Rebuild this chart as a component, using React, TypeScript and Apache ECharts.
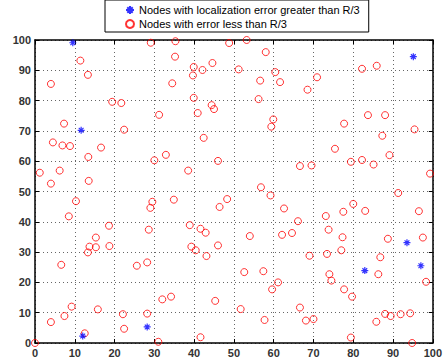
import React, { useEffect, useRef } from "react";
import * as echarts from "echarts";

const legendNames = [
  "Nodes with localization error greater than R/3",
  "Nodes with error less than R/3",
];

const xTicks = { min: 0, max: 100, step: 10 };

const blueX = [9.5, 11.6, 12.0, 28.2, 82.9, 93.5, 97.0, 95.1];
const blueY = [99.1, 70.2, 2.3, 5.3, 23.9, 33.1, 25.5, 94.5];

const redX = [
  11.4, 13.3, 4.0, 19.4, 21.7, 7.3, 22.4,
  29.1, 35.3, 35.2, 48.8, 53.2, 58.0, 39.9, 44.6, 42.1, 39.7, 51.2, 60.4, 61.6, 56.6, 34.5, 39.9, 56.2, 44.4, 45.0, 31.2, 40.9, 59.9, 59.4, 42.4,
  70.9, 68.5, 82.2, 85.9, 77.7, 83.7, 88.0, 95.4, 87.3,
  4.5, 6.9, 8.8, 16.6, 13.4, 1.2, 6.2, 4.0, 13.5, 10.3, 8.5, 18.6, 15.3,
  32.9, 30.0, 46.0, 38.5, 56.8, 59.2, 62.6, 29.5, 29.0, 34.9, 48.3, 46.4, 28.6, 38.9, 41.6, 42.9, 54.0, 62.1,
  75.4, 89.1, 66.6, 69.5, 79.4, 82.2, 85.1, 99.3, 91.3, 80.0, 77.5, 83.0, 96.5, 66.1, 73.1, 64.6, 73.8, 77.3, 88.7, 97.5,
  13.7, 15.3, 13.3, 18.7, 6.6, 25.6, 28.2, 9.2, 15.8, 7.4, 4.0, 22.1, 22.4, 28.2, 12.5, 0.0,
  39.3, 40.4, 46.0, 43.1, 52.6, 57.4, 61.1, 59.6, 32.0, 34.2, 45.3, 51.7, 57.7, 31.0, 41.6,
  69.0, 73.4, 77.0, 86.8, 74.0, 74.5, 86.3, 98.3, 77.7, 79.7, 66.6, 68.1, 70.0, 85.8, 88.0, 89.4, 91.9, 94.3, 79.4, 94.8,
];
const redY = [
  93.2, 88.5, 85.5, 79.6, 79.2, 72.4, 70.4,
  99.1, 99.6, 94.5, 99.0, 100.0, 96.0, 91.1, 92.4, 90.1, 88.3, 90.3, 89.4, 86.1, 86.6, 85.7, 80.9, 80.5, 78.5, 77.2, 75.3, 75.9, 73.8, 71.4, 67.7,
  87.7, 83.6, 90.5, 91.5, 72.4, 75.2, 75.2, 70.5, 68.4,
  66.2, 65.2, 65.0, 64.5, 61.4, 56.2, 56.9, 52.6, 53.5, 46.8, 41.8, 38.7, 34.8,
  62.1, 60.3, 60.1, 56.9, 51.4, 48.7, 44.4, 46.6, 44.6, 47.3, 47.5, 44.9, 37.4, 38.9, 37.7, 36.4, 35.3, 35.7,
  64.1, 62.0, 58.4, 58.6, 59.8, 60.4, 58.9, 55.9, 49.5, 45.9, 43.3, 43.6, 43.5, 40.2, 41.9, 36.3, 37.4, 34.9, 34.4, 34.8,
  31.8, 31.6, 29.9, 32.0, 25.8, 25.5, 26.6, 12.0, 11.1, 8.9, 6.9, 9.5, 4.7, 9.7, 3.2, 0.0,
  31.8, 30.6, 32.2, 28.7, 23.4, 23.7, 20.0, 17.7, 14.4, 15.3, 13.9, 11.2, 7.6, 0.4, 1.9,
  28.8, 29.4, 30.6, 28.3, 22.7, 20.6, 22.7, 20.2, 17.7, 15.3, 11.7, 7.4, 7.9, 7.0, 9.6, 8.9, 9.5, 9.8, 1.8, 0.0,
];

const zip = (xs: number[], ys: number[]) => xs.map((x, i) => [x, ys[i]]);

const ASTERISK = "path://M5 0L5 10M0 5L10 5M1.6 1.6L8.4 8.4M1.6 8.4L8.4 1.6";

export default function App() {
  const ref = useRef<HTMLDivElement>(null);
  useEffect(() => {
    if (!ref.current) return;
    const chart = echarts.init(ref.current, undefined, { renderer: "svg" });
    const labelStyle = {
      fontSize: 11,
      fontFamily: "Liberation Sans, Arial, sans-serif",
      fontWeight: "bold" as const,
      color: "#333",
    };
    const lineStyle = { color: "#000", width: 1.5 };
    const tick = { show: true, inside: true, length: 4, lineStyle: { color: "#000", width: 1 } };
    const split = { show: true, lineStyle: { type: [1, 3] as any, color: "#666", width: 1 } };
    const base = { type: "value" as const, min: xTicks.min, max: xTicks.max, interval: xTicks.step };
    chart.setOption({
      animation: false,
      backgroundColor: "#fff",
      legend: {
        orient: "vertical",
        left: 105,
        top: 0,
        padding: [4, 9, 2, 20],
        itemGap: 2,
        itemWidth: 8,
        itemHeight: 8,
        itemTextGap: 18,
        borderColor: "#000",
        borderWidth: 1,
        backgroundColor: "#fff",
        textStyle: { fontSize: 11, lineHeight: 12, color: "#000", fontFamily: "Liberation Sans, Arial, sans-serif" },
        data: legendNames,
      },
      grid: { left: 35, right: 6, top: 40, bottom: 17 },
      xAxis: [
        {
          ...base,
          position: "bottom",
          axisLine: { show: true, onZero: false, lineStyle },
          axisTick: tick,
          axisLabel: { ...labelStyle, margin: 4 },
          splitLine: split,
        },
        {
          ...base,
          position: "top",
          axisLine: { show: true, onZero: false, lineStyle },
          axisTick: tick,
          axisLabel: { show: false },
          splitLine: { show: false },
        },
      ],
      yAxis: [
        {
          ...base,
          position: "left",
          axisLine: { show: true, onZero: false, lineStyle },
          axisTick: tick,
          axisLabel: { ...labelStyle, margin: 4 },
          splitLine: split,
        },
        {
          ...base,
          position: "right",
          axisLine: { show: true, onZero: false, lineStyle },
          axisTick: tick,
          axisLabel: { show: false },
          splitLine: { show: false },
        },
      ],
      series: [
        {
          name: legendNames[0],
          type: "scatter",
          xAxisIndex: 0,
          yAxisIndex: 0,
          clip: false,
          data: zip(blueX, blueY),
          symbol: ASTERISK,
          symbolKeepAspect: true,
          symbolSize: 7,
          itemStyle: { color: "rgba(0,0,0,0)", borderColor: "#0000ff", borderWidth: 1.2 },
          z: 3,
        },
        {
          name: legendNames[1],
          type: "scatter",
          xAxisIndex: 0,
          yAxisIndex: 0,
          clip: false,
          data: zip(redX, redY),
          symbol: "circle",
          symbolSize: 7,
          itemStyle: { color: "rgba(0,0,0,0)", borderColor: "#ff0000", borderWidth: 1 },
          z: 2,
        },
      ],
    });
    return () => chart.dispose();
  }, []);
  return (
    <div
      ref={ref}
      style={{ position: "fixed", left: 0, top: 0, width: 445, height: 360 }}
    />
  );
}
